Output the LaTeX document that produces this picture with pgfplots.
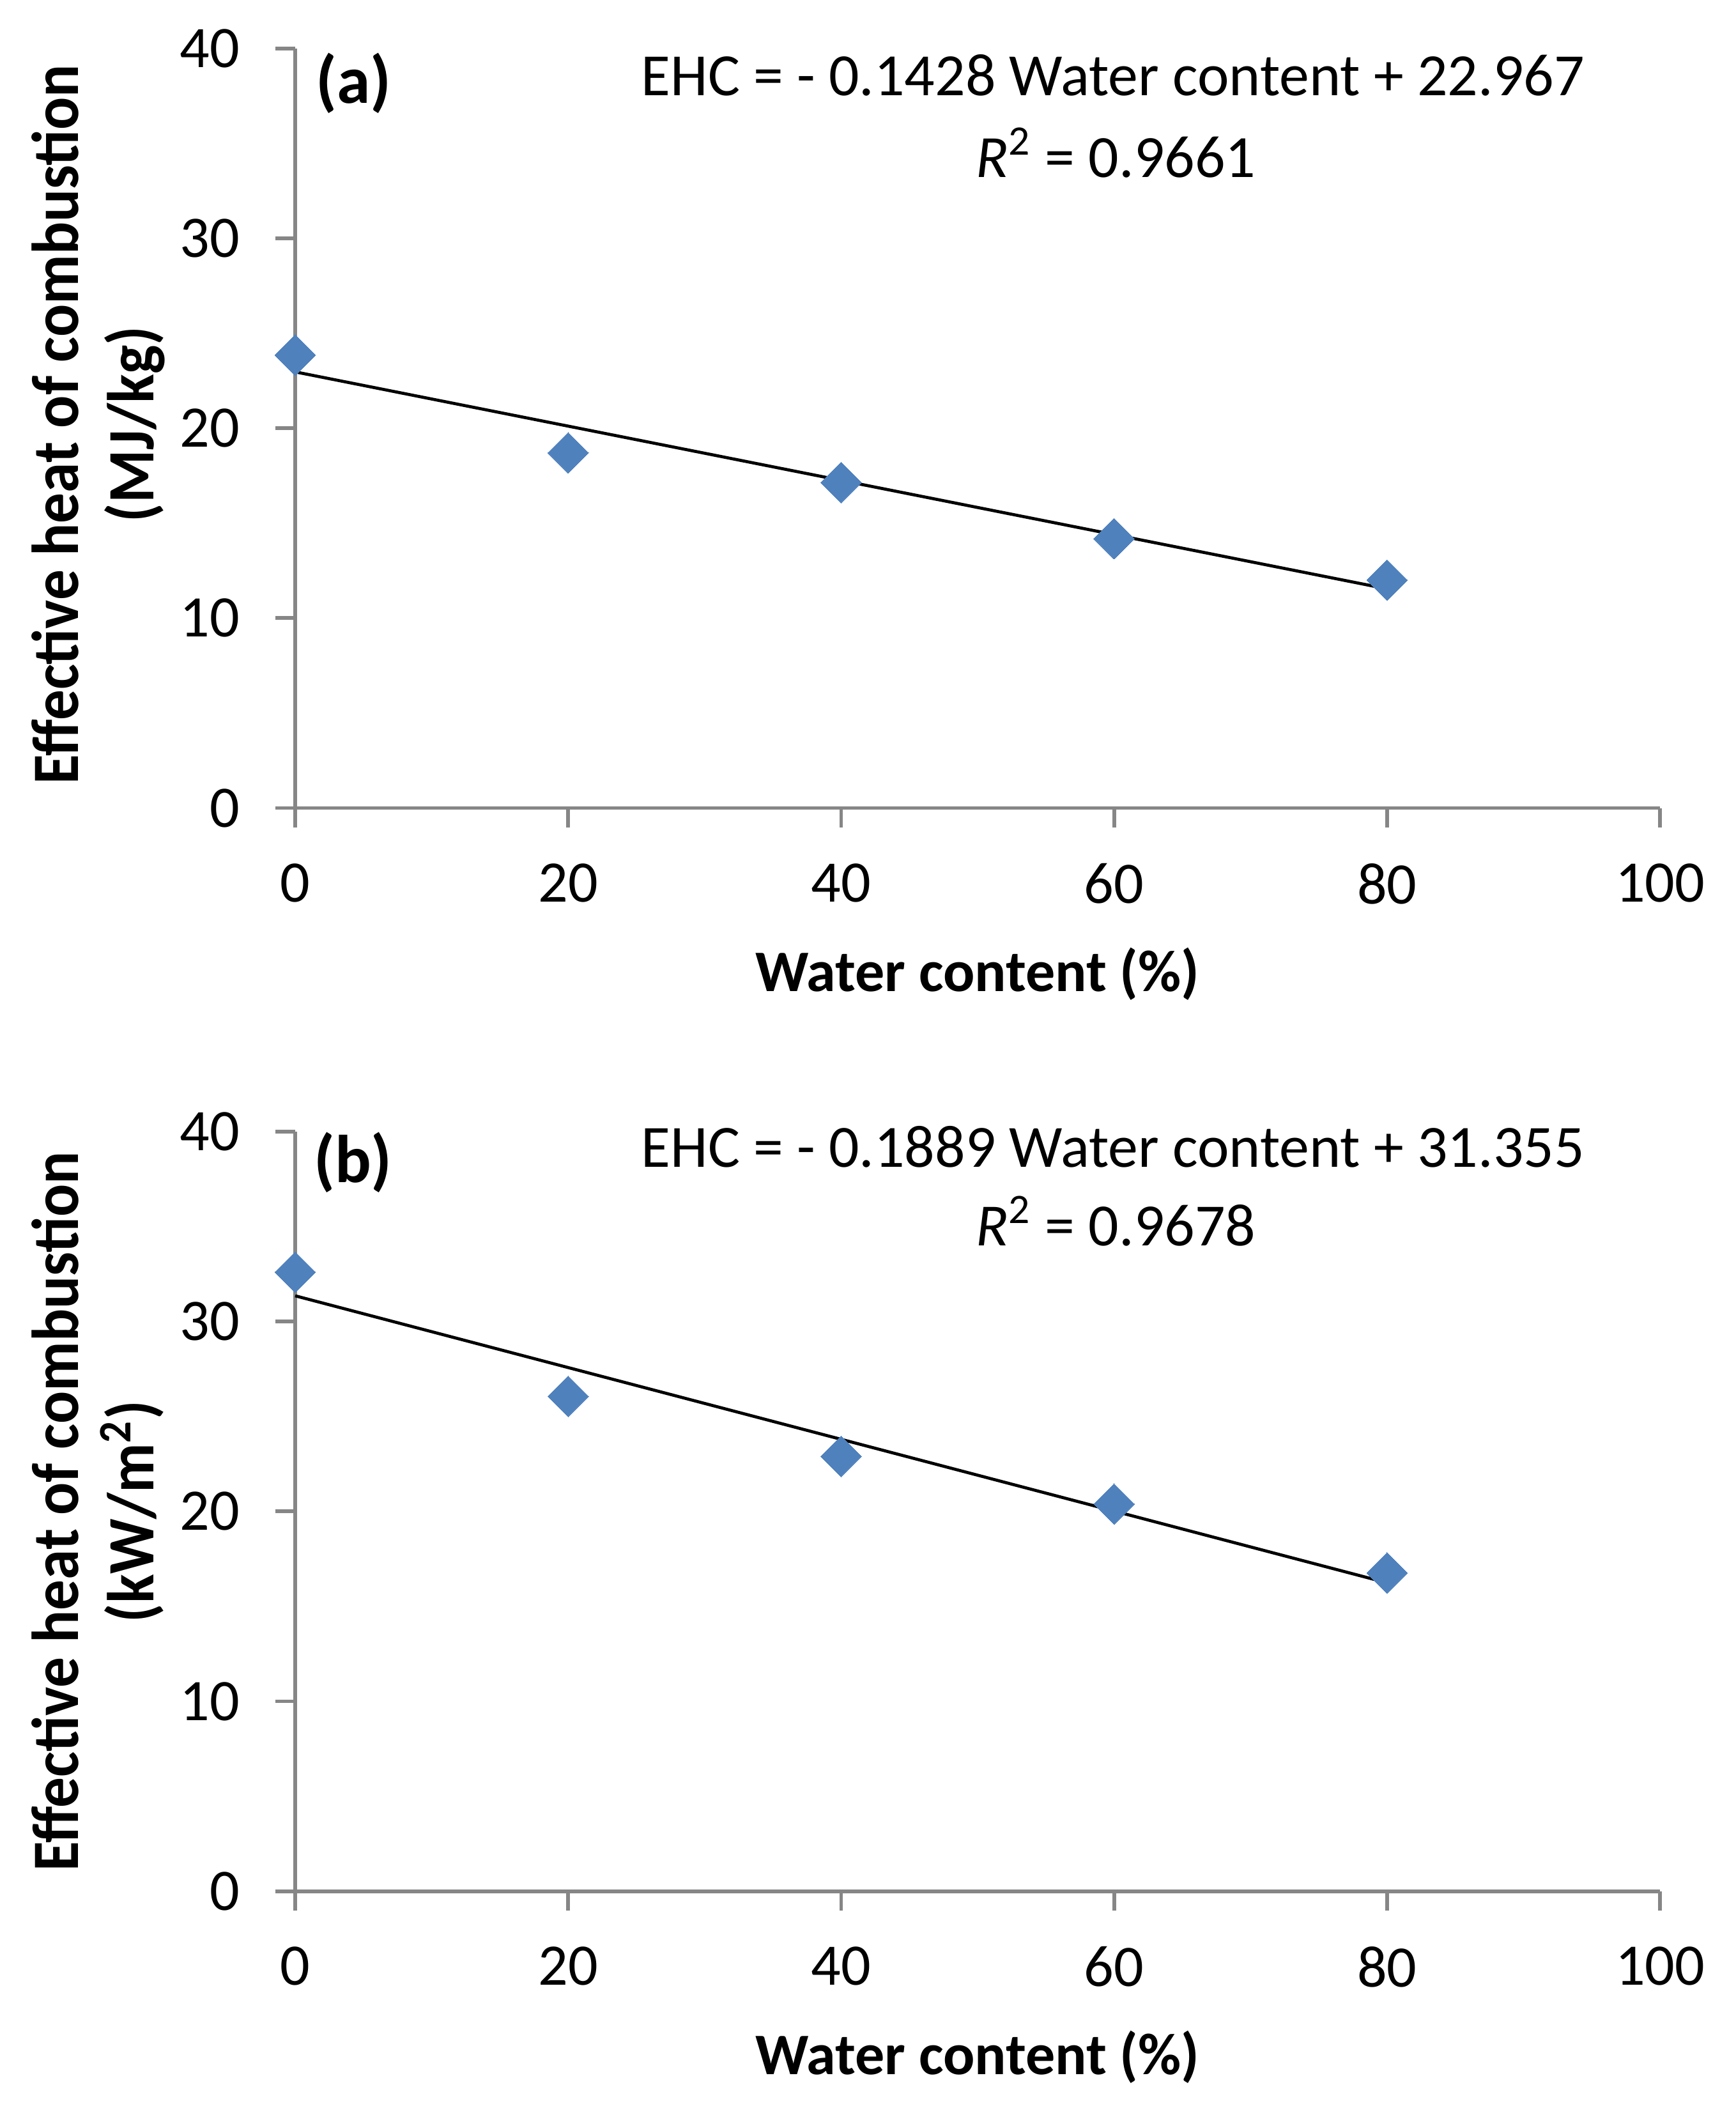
\documentclass[border=0pt]{standalone}
\usepackage{pgfplots}
\pgfplotsset{compat=1.18}
\usepackage{fontspec}
\setmainfont{Carlito}
\newfontfamily\ylabfont[FakeStretch=0.92]{Carlito}
\definecolor{axgray}{RGB}{134,134,134}
\definecolor{mblue}{RGB}{79,129,189}
\pgfplotsset{
  myax/.style={
    scale only axis, width=313pt, height=174.2pt,
    xmin=0, xmax=100, ymin=0, ymax=40,
    xtick={0,20,...,100}, ytick={0,10,...,40},
    axis x line*=bottom, axis y line*=left,
    axis line style={axgray, line width=0.85pt, -},
    tick style={axgray, line width=0.85pt},
    tick align=outside, major tick length=4.5pt,
    /pgf/number format/assume math mode=true,
    ticklabel style={font=\fontsize{13.5}{15}\selectfont},
    xticklabel style={yshift=-4.7pt},
    yticklabel style={xshift=-4.7pt},
    xlabel={\textbf{Water content (\%)}},
    xlabel style={font=\fontsize{13.5}{16}\selectfont, at={(axis description cs:0.5,0)}, anchor=base, yshift=-42pt},
    clip=false,
  },
  dmark/.style={only marks, mark=square*, mark size=3.3pt, mark options={rotate=45, fill=mblue, draw=mblue, line width=0pt}},
}
\tikzset{
  ylab/.style={rotate=90, anchor=base, inner sep=0pt, font=\fontsize{15.2}{18}\ylabfont\bfseries},
  eqlab/.style={anchor=base west, inner sep=0pt, font=\fontsize{13.75}{16}\selectfont},
  panel/.style={anchor=base west, inner sep=0pt, font=\fontsize{15.5}{18}\selectfont\bfseries},
}
\begin{document}
\begin{tikzpicture}
\begin{axis}[myax]
\addplot[dmark] coordinates {
(0,23.85) (20,18.7) (40,17.14) (60,14.18) (80,12.0)};
\addplot[black, line width=0.7pt] coordinates {(0,22.967) (80,11.543)};
\node[panel] at (axis cs:1.45,37.1) {(a)};
\node[eqlab] at (axis cs:25.3,37.52) {EHC = - 0.1428 Water content + 22.967};
\node[eqlab] at (axis cs:49.8,33.2) {\textit{R}\textsuperscript{2} = 0.9661};
\node[ylab] at ([xshift=-49.8pt]rel axis cs:0,0.505) {Effective heat of combustion};
\node[ylab] at ([xshift=-32.5pt]rel axis cs:0,0.505) {(MJ/kg)};
\end{axis}
\begin{axis}[myax, at={(0pt,-248.4pt)}]
\addplot[dmark] coordinates {
(0,32.6) (20,26.06) (40,22.9) (60,20.39) (80,16.76)};
\addplot[black, line width=0.7pt] coordinates {(0,31.355) (80,16.243)};
\node[panel] at (axis cs:1.3,37.34) {(b)};
\node[eqlab] at (axis cs:25.3,38.12) {EHC = - 0.1889 Water content + 31.355};
\node[eqlab] at (axis cs:49.8,33.98) {\textit{R}\textsuperscript{2} = 0.9678};
\node[ylab] at ([xshift=-49.8pt]rel axis cs:0,0.5) {Effective heat of combustion};
\node[ylab] at ([xshift=-32.5pt]rel axis cs:0,0.5) {(kW/m\textsuperscript{2})};
\end{axis}
\pgfresetboundingbox
\path (-67.7pt,-296.5pt) rectangle (330.3pt,185.3pt);
\end{tikzpicture}
\end{document}
